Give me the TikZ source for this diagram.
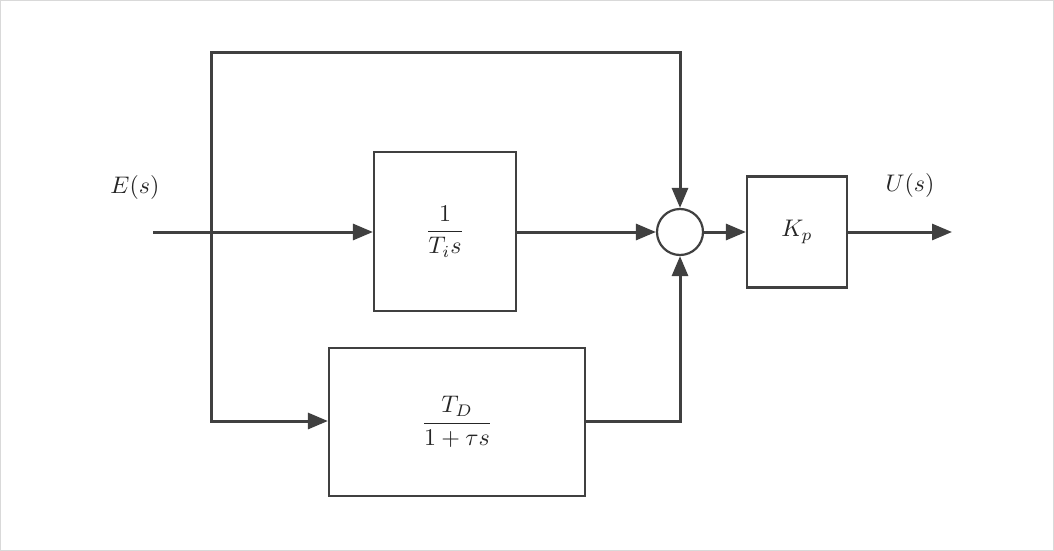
\documentclass[tikz,border=0pt]{standalone}
\usepackage{amsmath}
\usetikzlibrary{arrows.meta}
\begin{document}
\begin{tikzpicture}[x=1pt,y=-1pt,
  ln/.style={draw=black!75,line width=3pt},
  arr/.style={ln,-{Triangle[length=20pt,width=16pt]}},
  blk/.style={draw=black!75,line width=2.2pt,fill=white,inner sep=0pt},
  lab/.style={scale=2.4,text=black!85}]
\draw[draw=black!15,line width=1pt] (0.5,0.5) rectangle (1053.5,550.5);
\useasboundingbox (0,0) rectangle (1054,551);
\node[blk,minimum width=142pt,minimum height=159pt] (b1) at (445,231.5) {};
\node[lab] at (b1) {$\dfrac{1}{T_i s}$};
\node[blk,minimum width=256pt,minimum height=148pt] (b2) at (457,422) {};
\node[lab] at (b2) {$\dfrac{T_D}{1+\tau s}$};
\node[blk,minimum width=100pt,minimum height=111pt] (kp) at (797,232) {};
\node[lab] at (kp) {$K_p$};
\node[blk,circle,minimum size=46pt] (sum) at (680,232) {};
\coordinate (in) at (153,232);
\coordinate (sp) at (211,232);
\coordinate (out) at (952,232);
\node[lab] (E) at (135,187) {$E(s)$};
\node[lab] (U) at (910,185) {$U(s)$};
\draw[arr] (in) -- (b1.west |- in);
\draw[arr] (b1.east |- in) -- (sum.west);
\draw[arr] (sum.east) -- (kp.west);
\draw[arr] (kp.east) -- (out);
\draw[arr] (sp) -- (211,53) -- (680,53) -- (sum.north);
\draw[arr] (sp) -- (211,421) -- (b2.west |- 0,421);
\draw[arr] (b2.east |- 0,421) -- (680,421) -- (sum.south);
\end{tikzpicture}
\end{document}
